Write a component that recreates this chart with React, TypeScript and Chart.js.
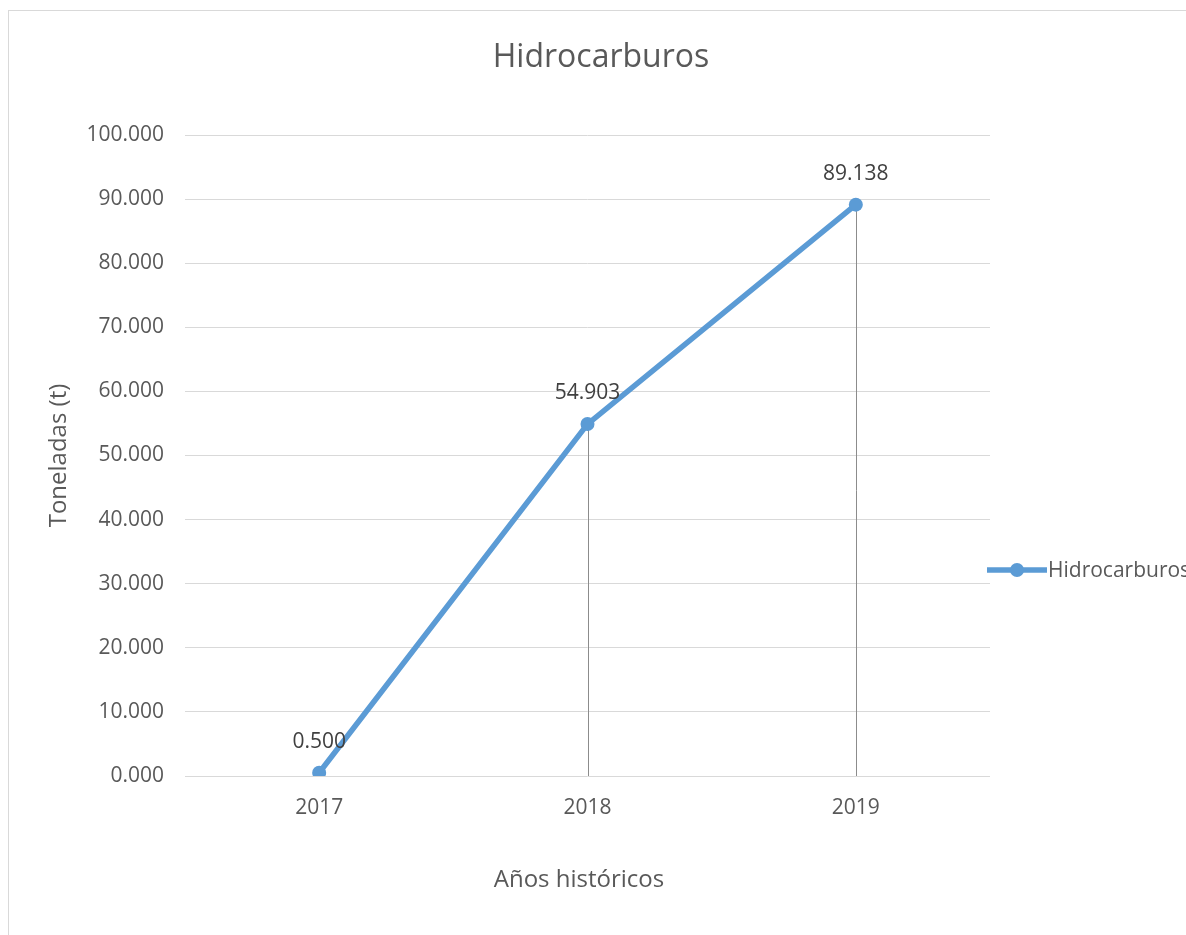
import React, { useEffect, useRef } from "react";
import { Chart, registerables } from "chart.js";

Chart.register(...registerables);

const chartTitle = "Hidrocarburos";
const categories = ["2017", "2018", "2019"];
const seriesName = "Hidrocarburos";
const seriesValues = [0.5, 54.903, 89.138];
const valueLabels = ["0.500", "54.903", "89.138"];
const yAxisTitle = "Toneladas (t)";
const xAxisTitle = "Años históricos";
const yMin = 0;
const yMax = 100;
const yStep = 10;

const FONT = "'Open Sans', sans-serif";
const LINE_COLOR = "#5b9bd5";
const TEXT_COLOR = "#595959";
const LABEL_COLOR = "#404040";
const GRID_COLOR = "#d9d9d9";

const CANVAS_W = 1177;
const CANVAS_H = 915;

const overlayPlugin = {
  id: "excelOverlay",
  beforeDatasetsDraw(chart: any) {
    const meta = chart.getDatasetMeta(0);
    const ctx = chart.ctx;
    const bottom = chart.chartArea.bottom;
    ctx.save();
    ctx.strokeStyle = "#8c8c8c";
    ctx.lineWidth = 1;
    meta.data.forEach((p: any) => {
      const x = Math.round(p.x) + 0.5;
      ctx.beginPath();
      ctx.moveTo(x, p.y);
      ctx.lineTo(x, bottom);
      ctx.stroke();
    });
    ctx.restore();
  },
  afterDatasetsDraw(chart: any) {
    const meta = chart.getDatasetMeta(0);
    const ctx = chart.ctx;
    ctx.save();
    ctx.font = `21px ${FONT}`;
    ctx.fillStyle = LABEL_COLOR;
    ctx.textAlign = "center";
    ctx.textBaseline = "alphabetic";
    meta.data.forEach((p: any, i: number) => {
      ctx.fillText(valueLabels[i], p.x, p.y - 25);
    });
    ctx.restore();
  },
  afterDraw(chart: any) {
    const ctx = chart.ctx;
    ctx.save();
    // title
    ctx.font = `32px ${FONT}`;
    ctx.fillStyle = TEXT_COLOR;
    ctx.textAlign = "center";
    ctx.textBaseline = "alphabetic";
    ctx.fillText(chartTitle, 592, 56);
    // x axis title
    ctx.font = `24px ${FONT}`;
    ctx.fillText(xAxisTitle, 570, 876);
    // legend
    const ly = 559;
    ctx.strokeStyle = LINE_COLOR;
    ctx.lineWidth = 5.5;
    ctx.beginPath();
    ctx.moveTo(978, ly);
    ctx.lineTo(1038, ly);
    ctx.stroke();
    ctx.fillStyle = LINE_COLOR;
    ctx.beginPath();
    ctx.arc(1008, ly, 7, 0, Math.PI * 2);
    ctx.fill();
    ctx.font = `21px ${FONT}`;
    ctx.fillStyle = TEXT_COLOR;
    ctx.textAlign = "left";
    ctx.fillText(seriesName, 1039, 566);
    ctx.restore();
  },
};

export default function App() {
  const ref = useRef<HTMLCanvasElement | null>(null);

  useEffect(() => {
    document.documentElement.style.overflow = "hidden";
    document.body.style.overflow = "hidden";
    if (!ref.current) return;
    const chart = new Chart(ref.current, {
      type: "line",
      data: {
        labels: categories,
        datasets: [
          {
            label: seriesName,
            data: seriesValues,
            borderColor: LINE_COLOR,
            backgroundColor: LINE_COLOR,
            borderWidth: 5.5,
            pointRadius: 7,
            pointHoverRadius: 7,
            pointBackgroundColor: LINE_COLOR,
            pointBorderColor: LINE_COLOR,
            pointBorderWidth: 0,
            tension: 0,
          },
        ],
      },
      options: {
        responsive: false,
        animation: false,
        devicePixelRatio: 1,
        layout: { padding: { top: 124, right: 196, left: 0, bottom: 0 } },
        plugins: {
          legend: { display: false },
          title: { display: false },
          tooltip: { enabled: false },
        },
        scales: {
          x: {
            type: "category",
            offset: true,
            grid: { display: false, drawTicks: false },
            border: { display: false },
            ticks: {
              padding: 19,
              color: TEXT_COLOR,
              font: { family: FONT, size: 21 },
            },
            title: { display: false },
            afterFit(scale: any) {
              scale.height = 150;
            },
          },
          y: {
            min: yMin,
            max: yMax,
            grid: { color: GRID_COLOR, lineWidth: 1, drawTicks: false },
            border: { display: false },
            ticks: {
              stepSize: yStep,
              padding: 21,
              color: TEXT_COLOR,
              font: { family: FONT, size: 21 },
              callback: (v: any) => Number(v).toFixed(3),
            },
            title: {
              display: true,
              text: yAxisTitle,
              color: TEXT_COLOR,
              font: { family: FONT, size: 24 },
              padding: { top: 36, bottom: 0 },
            },
            afterFit(scale: any) {
              scale.width = 176;
            },
          },
        },
      },
      plugins: [overlayPlugin],
    } as any);
    return () => chart.destroy();
  }, []);

  return (
    <div
      style={{
        position: "fixed",
        left: 8,
        top: 10,
        borderLeft: "1px solid #d9d9d9",
        borderTop: "1px solid #d9d9d9",
        width: CANVAS_W,
        height: 924,
        overflow: "hidden",
        background: "#fff",
      }}
    >
      <canvas
        ref={ref}
        width={CANVAS_W}
        height={CANVAS_H}
        style={{ display: "block", width: CANVAS_W, height: CANVAS_H }}
      />
    </div>
  );
}
